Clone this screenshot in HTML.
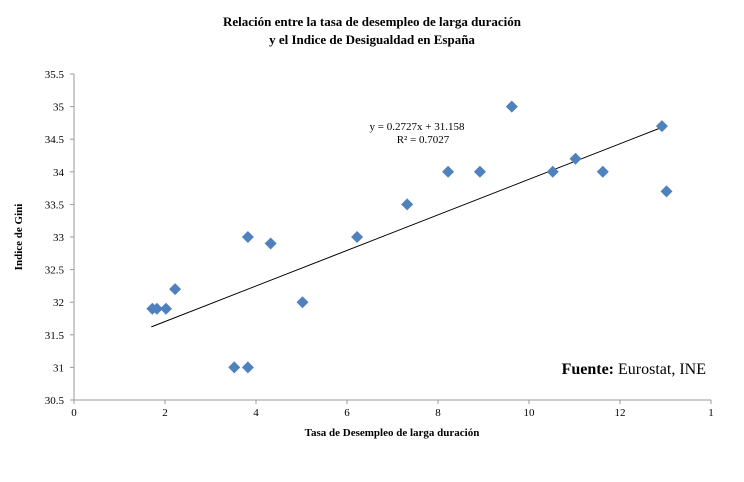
<!DOCTYPE html>
<html><head><meta charset="utf-8"><style>
body{margin:0;background:#fff}
svg text{font-family:"Liberation Serif",serif}
</style></head><body>
<svg width="744" height="477" viewBox="0 0 744 477">
<text x="372" y="26" text-anchor="middle" font-size="13" font-weight="bold">Relación entre la tasa de desempleo de larga duración</text>
<text x="372" y="44" text-anchor="middle" font-size="13" font-weight="bold">y el Indice de Desigualdad en España</text>
<g id="axes"></g>
<g id="marks"></g>
<text x="417" y="130" text-anchor="middle" font-size="11">y = 0.2727x + 31.158</text>
<text x="423" y="143" text-anchor="middle" font-size="11">R² = 0.7027</text>
<text x="706" y="374" text-anchor="end" font-size="16"><tspan font-weight="bold">Fuente:</tspan> Eurostat, INE</text>
<text x="392" y="436" text-anchor="middle" font-size="11" font-weight="bold">Tasa de Desempleo de larga duración</text>
<text transform="translate(22,237) rotate(-90)" text-anchor="middle" font-size="11" font-weight="bold">Indice de Gini</text>
</svg>
<script>
const xValues=[1.7,1.8,2.0,2.2,3.5,3.8,3.8,4.3,5.0,6.2,7.3,8.2,8.9,9.6,10.5,11.0,11.6,12.9,13.0];
const yValues=[31.9,31.9,31.9,32.2,31.0,31.0,33.0,32.9,32.0,33.0,33.5,34.0,34.0,35.0,34.0,34.2,34.0,34.7,33.7];
const xTicks=[0,2,4,6,8,10,12,14];
const xTickLabels=["0","2","4","6","8","10","12","1"];
const yTicks=[30.5,31,31.5,32,32.5,33,33.5,34,34.5,35,35.5];
const trendSlope=0.2727, trendIntercept=31.158;
const NS="http://www.w3.org/2000/svg";
const X=v=>74+v*45.5;
const Y=v=>400-(v-30.5)*65.2;
function mk(t,a,p){const e=document.createElementNS(NS,t);for(const k in a)e.setAttribute(k,a[k]);p.appendChild(e);return e;}
const ax=document.getElementById('axes');
let l=mk('line',{x1:74,y1:Y(35.5),x2:74,y2:400,stroke:'#999'},ax);


l=mk('line',{x1:74,y1:400,x2:X(14),y2:400,stroke:'#999'},ax);


yTicks.forEach(v=>{
 mk('line',{x1:70,y1:Y(v),x2:74,y2:Y(v),stroke:'#999'},ax);
 const t=mk('text',{x:64,y:Y(v)+4,'text-anchor':'end','font-size':11},ax);t.textContent=v;
 
 
});
xTicks.forEach((v,i)=>{
 mk('line',{x1:X(v),y1:400,x2:X(v),y2:404,stroke:'#999'},ax);
 const t=mk('text',{x:X(v),y:416,'text-anchor':'middle','font-size':11},ax);t.textContent=xTickLabels[i];
 
 
});
const m=document.getElementById('marks');
const x0=Math.min(...xValues),x1=Math.max(...xValues.slice(0,-1));
const tl=mk('line',{x1:X(x0),y1:Y(trendSlope*x0+trendIntercept),x2:X(x1),y2:Y(trendSlope*x1+trendIntercept),stroke:'#000','stroke-width':1},m);


xValues.forEach((xv,i)=>{
 const cx=X(xv)+1,cy=Y(yValues[i]),s=6;
 const p=mk('polygon',{points:`${cx},${cy-s} ${cx+s},${cy} ${cx},${cy+s} ${cx-s},${cy}`,fill:'#4f81bd'},m);
 
 
});
</script>
</body></html>
